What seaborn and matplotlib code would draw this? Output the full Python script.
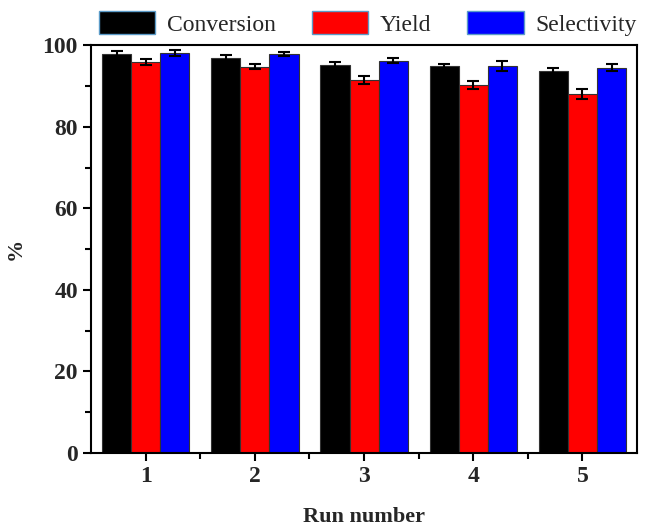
import pandas as pd
import matplotlib
matplotlib.use('Agg')
import matplotlib.pyplot as plt
from matplotlib.ticker import MultipleLocator, FixedLocator
import seaborn as sns

# Values
runs = ['1', '2', '3', '4', '5']
conversion = [97.8, 96.8, 95.2, 94.8, 93.7]
yield_ = [95.9, 94.7, 91.5, 90.2, 88.0]
selectivity = [98.1, 97.8, 96.2, 95.0, 94.5]
conversion_err = [0.8, 0.8, 0.7, 0.7, 0.7]
yield_err = [0.7, 0.6, 1.0, 1.0, 1.2]
selectivity_err = [0.8, 0.5, 0.6, 1.2, 0.8]

series = ['Conversion', 'Yield', 'Selectivity']
colors = ['#000000', '#ff0000', '#0000ff']

data = pd.DataFrame({
    'Run': runs * 3,
    'Value': conversion + yield_ + selectivity,
    'Err': conversion_err + yield_err + selectivity_err,
    'Metric': [s for s in series for _ in runs],
})

sns.set_style('ticks')
plt.rcParams['font.family'] = ['Liberation Serif', 'DejaVu Serif']

fig = plt.figure(figsize=(6.51, 5.26), dpi=100)
ax = fig.add_axes([0.14, 0.139, 0.8385, 0.775])

sns.barplot(data=data, x='Run', y='Value', hue='Metric', hue_order=series,
            palette=colors, width=0.8, errorbar=None, edgecolor='#333333',
            linewidth=0.8, saturation=1, ax=ax, legend=False)

# error bars at the centre of each drawn bar
bars = [p for p in ax.patches]
for p, (_, row) in zip(bars, data.iterrows()):
    ax.errorbar(p.get_x() + p.get_width() / 2, row['Value'], yerr=row['Err'],
                fmt='none', ecolor='black', elinewidth=1.5, capsize=4,
                capthick=1.5)

ax.set_xlim(-0.5, 4.5)
ax.set_ylim(0, 100)
ax.yaxis.set_major_locator(MultipleLocator(20))
ax.yaxis.set_minor_locator(MultipleLocator(10))
ax.xaxis.set_minor_locator(FixedLocator([0.5, 1.5, 2.5, 3.5]))

for side in ['top', 'right', 'left', 'bottom']:
    ax.spines[side].set_visible(True)
    ax.spines[side].set_linewidth(1.5)
    ax.spines[side].set_color('black')

ax.tick_params(axis='both', which='major', direction='out', length=6,
               width=1.5, labelsize=17, color='black')
ax.tick_params(axis='both', which='minor', direction='out', length=4,
               width=1.5, color='black')
ax.tick_params(top=False, right=False, which='both')
for lab in ax.get_xticklabels() + ax.get_yticklabels():
    lab.set_fontweight('bold')

ax.set_xlabel('Run number', fontsize=16, fontweight='bold', labelpad=14)
ax.set_ylabel('%', fontsize=16, fontweight='bold', labelpad=12)

handles = [plt.Rectangle((0, 0), 1, 1, facecolor=c, edgecolor='#5b9bc8',
                         linewidth=1.0) for c in colors]
fig.legend(handles, series, loc='center', bbox_to_anchor=(0.565, 0.956),
           ncol=3, frameon=False, fontsize=17, handlelength=2.4,
           handleheight=1.15, columnspacing=1.5, handletextpad=0.5,
           borderaxespad=0)

fig.savefig('out.png', dpi=100)
